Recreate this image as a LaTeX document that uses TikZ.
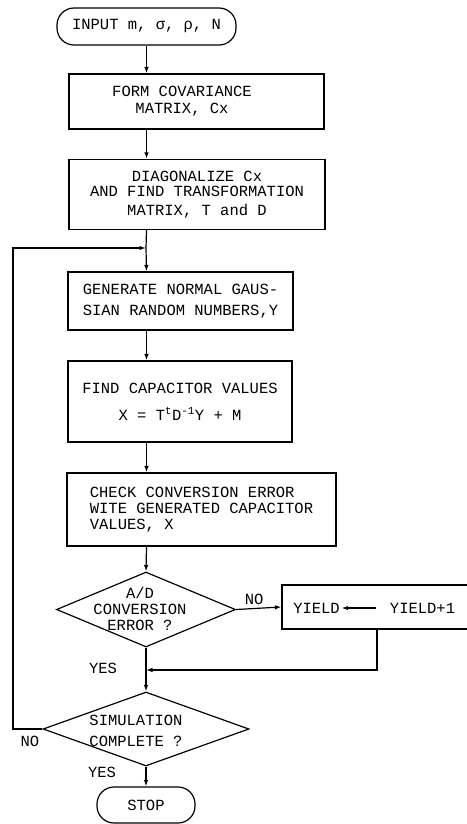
\documentclass[tikz,border=0pt]{standalone}
\usepackage{fontspec}
\setmonofont{Liberation Mono}
\usetikzlibrary{shapes.geometric,arrows.meta}
\newcommand\flowfont{\ttfamily\fontsize{15.5}{17}\selectfont}
\begin{document}
\begin{tikzpicture}[x=1pt,y=-1pt,line width=1.2pt,
    every node/.style={font=\flowfont},
    box/.style={draw,rectangle,align=center,inner sep=0pt},
    term/.style={draw,rectangle,rounded corners=17pt,inner sep=0pt},
    decision/.style={draw,diamond,inner sep=0pt},
    flow/.style={-{Latex[length=6.5pt,width=4.5pt]}}]
      \useasboundingbox (0,0) rectangle (466,824);

      \node[term,minimum width=179,minimum height=37] (input) at (146.5,26.5){INPUT m, σ, ρ, N};
      \node[box,minimum width=255,minimum height=55] (covar) at (196.5,101.5){};
      \node[align=center] (covartext) at (182,101){FORM COVARIANCE\\MATRIX, Cx};
      \node[box,minimum width=256,minimum height=70] (diag) at (197,194.5){DIAGONALIZE Cx\\[-2pt]AND FIND TRANSFORMATION\\[2pt]MATRIX, T and D};
      \node[box,align=left,minimum width=225,minimum height=58] (gauss) at (180.5,301){GENERATE NORMAL GAUS-\\[4pt]SIAN RANDOM NUMBERS,Y};
      \node[box,minimum width=224,minimum height=81] (capval) at (180,401.5){FIND CAPACITOR VALUES\\[10pt]X = T\textsuperscript{t}D\textsuperscript{-1}Y + M};
      \node[box,align=left,minimum width=269,minimum height=73] (check) at (201.5,509.5){CHECK CONVERSION ERROR\\[-1pt]WITE GENERATED CAPACITOR\\[-1pt]VALUES, X};

      \node[decision,minimum width=179,minimum height=75] (adc) at (146,609.5){};
      \node[align=center] (adctext) at (140,609){A/D\\[-1pt]CONVERSION\\[-1pt]ERROR ?};
      \node[box,minimum width=186,minimum height=44] (yield) at (375,607){};
      \node (yl) at (316.5,608){YIELD};
      \node (yr) at (422.5,608){YIELD+1};

      \node[decision,minimum width=206,minimum height=74] (simdone) at (146,729){};
      \node[align=left] (simtext) at (136,730.5){SIMULATION\\[4pt]COMPLETE ?};
      \node[term,minimum width=98,minimum height=36] (stop) at (146,805){STOP};

      \coordinate (loopin) at (146,248);
      \coordinate (merge) at (146,670);
      \coordinate (back) at (13,729);

      \draw[flow] (input) to (covar.north -| input);
      \draw[flow] (covar.south -| input) to (diag.north -| input);
      \draw(diag.south -| input) to (loopin);
      \draw[flow] (loopin) to (gauss.north -| input);
      \draw[flow] (gauss.south -| input) to (capval.north -| input);
      \draw[flow] (capval.south -| input) to (check.north -| input);
      \draw[flow] (check.south -| input) to (adc.north);

      \draw[flow] (adc.east) to node[pos=0.4,above]{NO} (yield.west);
      \draw[flow,shorten <=10pt,shorten >=-2pt] (yr) to (yl);
      \draw[flow] ([xshift=2pt]yield.south) |- (merge);
      \draw(adc.south) to (merge);
      \draw[flow] (merge) to (simdone.north);
      \draw[flow] (simdone.west) -- (back) |- (loopin);
      \draw[flow] (simdone.south) to (stop.north);

      \node (yes1) at (103,668){YES};
      \node (no2) at (30,741){NO};
      \node (yes2) at (102,772){YES};
    \end{tikzpicture}
\end{document}
